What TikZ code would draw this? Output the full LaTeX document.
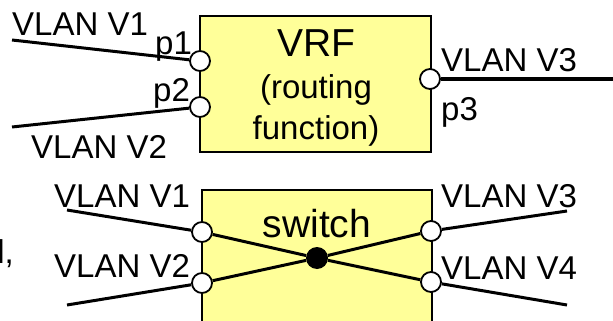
\documentclass[tikz,border=0pt]{standalone}
\usepackage{fontspec}
\setmainfont{Liberation Sans}
\begin{document}
\begin{tikzpicture}[x=1pt,y=-1pt,
  box/.style={draw=black,line width=1.8pt,fill=boxyellow,rectangle,inner sep=0pt},
  port/.style={circle,draw=black,line width=1.8pt,fill=white,minimum size=20pt,inner sep=0pt},
  hub/.style={circle,fill=black,minimum size=22pt,inner sep=0pt},
  wire/.style={line width=3pt},
  lbl/.style={font=\fontsize{33}{36}\selectfont,inner sep=0pt},
  ttl/.style={font=\fontsize{39}{44}\selectfont,inner sep=0pt}
]
\definecolor{boxyellow}{HTML}{FFFF99}
\clip (0,0) rectangle (613,321);
% upper VRF box
\node[box,minimum width=231pt,minimum height=136pt] (vrf) at (315.5,84) {};
\node[ttl,anchor=base] (vrft) at (316,57) {VRF};
\node[lbl,anchor=base] (vrf2) at (316,98) {(routing};
\node[lbl,anchor=base] (vrf3) at (316,139) {function)};
\node[port] (p1) at (200,61) {};
\node[port] (p2) at (200,107) {};
\node[port] (p3) at (430,79) {};
\coordinate (a1) at (12,40);
\coordinate (a2) at (12,127);
\coordinate (a3) at (613,79);
\draw[wire] (a1) -- (p1);
\draw[wire] (a2) -- (p2);
\draw[wire] (p3) -- (a3);
\node[lbl,anchor=base west] (t1) at (12,36) {VLAN V1};
\node[lbl,anchor=base west] (t2) at (31,158) {VLAN V2};
\node[lbl,anchor=base west] (t3) at (441,71) {VLAN V3};
\node[lbl,anchor=base west] (tp1) at (155,55) {p1};
\node[lbl,anchor=base west] (tp2) at (153,101) {p2};
\node[lbl,anchor=base west] (tp3) at (441,120) {p3};
% lower switch box
\node[box,minimum width=230pt,minimum height=150pt] (sw) at (317,265) {};
\node[ttl,anchor=base] (swt) at (317,237) {switch};
\node[port] (s1) at (202,232) {};
\node[port] (s2) at (202,283) {};
\node[port] (s3) at (431,231) {};
\node[port] (s4) at (431,282) {};
\node[hub] (hub) at (317,258) {};
\draw[wire] (s1) -- (hub) -- (s4);
\draw[wire] (s2) -- (hub) -- (s3);
\coordinate (b1) at (67,210);
\coordinate (b2) at (67,305);
\coordinate (b3) at (567,211);
\coordinate (b4) at (567,305);
\draw[wire] (b1) -- (s1);
\draw[wire] (b2) -- (s2);
\draw[wire] (s3) -- (b3);
\draw[wire] (s4) -- (b4);
\node[lbl,anchor=base west] (u1) at (54,207) {VLAN V1};
\node[lbl,anchor=base west] (u2) at (54,277) {VLAN V2};
\node[lbl,anchor=base west] (u3) at (441,207) {VLAN V3};
\node[lbl,anchor=base west] (u4) at (441,279) {VLAN V4};
\node[lbl,anchor=base east] (frag) at (14,263) {l,};
\end{tikzpicture}
\end{document}
